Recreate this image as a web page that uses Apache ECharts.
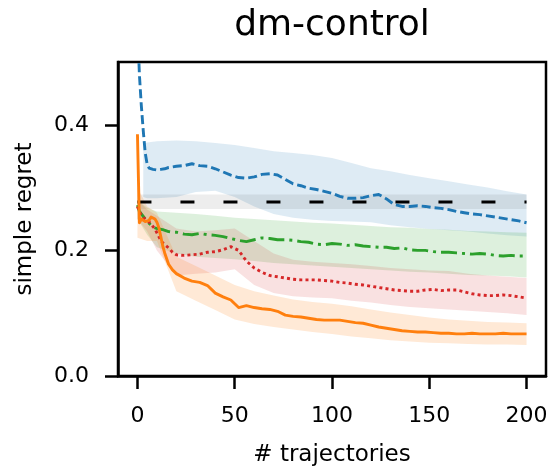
<!DOCTYPE html>
<html><head><meta charset="utf-8">
<script src="https://cdn.jsdelivr.net/npm/echarts@6/dist/echarts.min.js"></script>
<style>html,body{margin:0;padding:0;background:#fff}#c{width:549px;height:467px}</style>
</head><body><div id="c"></div>
<script>
const titleText = 'dm-control';
const xName = '# trajectories';
const yName = 'simple regret';
const xTicks = [0, 50, 100, 150, 200];
const yTicks = [0, 0.2, 0.4];

// x positions of the mean curves
const traj = [0,1,2,3,4,5,6,7,8,9,10,11,12,13,14,16,18,
  20,24,28,32,36,40,44,48,52,56,60,64,68,72,76,80,84,88,92,96,100,104,108,112,116,120,124,128,132,136,140,144,148,152,156,160,164,168,172,176,180,184,188,192,196,200];

const blueMean = [0.56,0.48,0.43,0.39,0.355,0.337,0.331,0.328,0.329,0.327,0.328,0.33,0.329,0.331,0.33,0.332,0.333,
  0.334,0.335,0.338,0.335,0.334,0.33,0.325,0.32,0.316,0.315,0.317,0.321,0.322,0.32,0.313,0.306,0.303,0.299,0.297,0.294,0.291,0.286,0.283,0.283,0.284,0.287,0.289,0.282,0.273,0.27,0.27,0.271,0.27,0.268,0.267,0.265,0.262,0.26,0.258,0.257,0.255,0.253,0.251,0.249,0.247,0.244];

const greenMean = [0.272,0.262,0.258,0.254,0.25,0.246,0.243,0.24,0.238,0.236,0.235,0.234,0.233,0.233,0.231,0.23,0.229,
  0.229,0.226,0.225,0.227,0.225,0.224,0.222,0.219,0.216,0.214,0.217,0.22,0.219,0.217,0.217,0.216,0.214,0.213,0.21,0.209,0.211,0.21,0.208,0.209,0.207,0.206,0.205,0.205,0.203,0.204,0.201,0.2,0.2,0.198,0.197,0.197,0.196,0.195,0.194,0.195,0.194,0.192,0.191,0.192,0.191,0.191];

const redMean = [0.27,0.262,0.256,0.252,0.25,0.248,0.245,0.242,0.238,0.234,0.228,0.222,0.216,0.212,0.209,0.204,0.197,
  0.193,0.192,0.193,0.194,0.197,0.198,0.201,0.206,0.2,0.183,0.172,0.165,0.16,0.158,0.156,0.154,0.153,0.153,0.153,0.152,0.151,0.149,0.148,0.146,0.145,0.143,0.141,0.139,0.137,0.136,0.135,0.135,0.137,0.138,0.136,0.137,0.137,0.134,0.131,0.129,0.128,0.128,0.129,0.128,0.126,0.124];

const orangeMean = [0.385,0.244,0.25,0.249,0.246,0.244,0.248,0.253,0.254,0.25,0.245,0.236,0.222,0.207,0.196,0.178,0.169,
  0.163,0.156,0.151,0.149,0.144,0.132,0.126,0.121,0.109,0.112,0.109,0.107,0.106,0.103,0.097,0.095,0.094,0.092,0.09,0.089,0.089,0.089,0.087,0.085,0.084,0.081,0.078,0.076,0.074,0.072,0.071,0.07,0.07,0.069,0.068,0.068,0.067,0.067,0.068,0.067,0.067,0.067,0.068,0.067,0.067,0.067];

// shaded bands
const bandX = [0,5,10,20,30,40,50,60,70,80,90,100,110,120,130,140,150,160,170,180,190,200];
const blueBandX = [3,5,10,20,30,40,50,60,70,80,90,100,110,120,130,140,150,160,170,180,190,200];
const blueHi = [0.37,0.372,0.374,0.375,0.374,0.371,0.368,0.363,0.358,0.355,0.352,0.347,0.339,0.331,0.326,0.32,0.315,0.31,0.305,0.3,0.294,0.289];
const blueLo = [0.285,0.283,0.283,0.285,0.293,0.295,0.285,0.27,0.258,0.252,0.249,0.247,0.246,0.245,0.24,0.237,0.234,0.232,0.23,0.227,0.224,0.222];
const greenHi = [0.28,0.268,0.262,0.26,0.258,0.255,0.252,0.25,0.248,0.246,0.244,0.243,0.241,0.239,0.237,0.236,0.234,0.233,0.231,0.23,0.229,0.228];
const greenLo = [0.25,0.225,0.205,0.195,0.19,0.188,0.186,0.183,0.18,0.178,0.176,0.174,0.172,0.17,0.168,0.166,0.165,0.163,0.161,0.16,0.159,0.157];
const redHi = [0.28,0.265,0.255,0.235,0.23,0.232,0.235,0.215,0.195,0.185,0.182,0.18,0.178,0.175,0.172,0.17,0.168,0.167,0.163,0.16,0.158,0.156];
const redLo = [0.25,0.23,0.2,0.16,0.163,0.165,0.17,0.145,0.132,0.127,0.125,0.124,0.12,0.117,0.113,0.11,0.108,0.106,0.104,0.102,0.1,0.097];
const orangeHi = [0.3,0.27,0.26,0.19,0.175,0.16,0.145,0.135,0.128,0.122,0.118,0.115,0.111,0.106,0.101,0.097,0.093,0.09,0.088,0.086,0.085,0.084];
const orangeLo = [0.22,0.215,0.215,0.135,0.12,0.105,0.09,0.083,0.078,0.074,0.07,0.067,0.063,0.06,0.057,0.055,0.053,0.052,0.051,0.05,0.05,0.0495];

// reference (black dashed) level
const baseX = [0, 200];
const baseMean = [0.277, 0.277];
const baseHi = [0.289, 0.289];
const baseLo = [0.266, 0.266];

const FONT = 'DejaVu Sans';

function band(xs, lo, hi, color, op) {
  return {
    type: 'custom', silent: true, z: 1, animation: false,
    data: xs.map((x, i) => [x, lo[i], hi[i]]),
    encode: { x: 0, y: [1, 2] },
    renderItem: function (params, api) {
      if (params.dataIndex !== 0) return null;
      const top = xs.map((x, i) => api.coord([x, hi[i]]));
      const bot = xs.map((x, i) => api.coord([x, lo[i]])).reverse();
      return { type: 'polygon', shape: { points: top.concat(bot) }, style: { fill: color, opacity: op } };
    }
  };
}
function curve(xs, ys, color, dash, z) {
  return { type: 'line', data: xs.map((x, i) => [x, ys[i]]), symbol: 'none', silent: true, z: z,
    lineStyle: { color: color, width: 2.9, type: dash, cap: 'butt', join: 'round' }, animation: false, clip: true };
}

const series = [
  band(blueBandX, blueLo, blueHi, '#1f77b4', 0.15),
  band(baseX, baseLo, baseHi, '#000000', 0.07),
  band(bandX, greenLo, greenHi, '#2ca02c', 0.16),
  band(bandX, redLo, redHi, '#d62728', 0.14),
  band(bandX, orangeLo, orangeHi, '#ff7f0e', 0.17),
  curve(baseX, baseMean, '#000000', [14, 29], 2),
  curve(traj, blueMean, '#1f77b4', [9, 4], 3),
  curve(traj, greenMean, '#2ca02c', [16, 5, 3, 5], 3),
  curve(traj, redMean, '#d62728', [3, 3.2], 3),
  curve(traj, orangeMean, '#ff7f0e', 'solid', 4)
];

const chart = echarts.init(document.getElementById('c'), null, { renderer: 'canvas' });
chart.setOption({
  animation: false,
  backgroundColor: '#fff',
  grid: { left: 118, right: 3, top: 62, bottom: 91, containLabel: false, outerBoundsMode: 'none',
          show: true, borderColor: '#000', borderWidth: 2.5, backgroundColor: 'transparent' },
  graphic: [{
    type: 'text', x: 332, y: 26,
    style: { text: titleText, font: '36px "DejaVu Sans"', fill: '#000', align: 'center', verticalAlign: 'middle', textAlign: 'center', textVerticalAlign: 'middle' }
  }],
  xAxis: {
    type: 'value', min: -10, max: 210,
    name: xName, nameLocation: 'middle', nameGap: 68,
    nameTextStyle: { fontFamily: FONT, fontSize: 23, color: '#000' },
    axisLine: { show: true, onZero: false, lineStyle: { color: '#000', width: 2.5 } },
    axisTick: { show: true, length: 13, customValues: xTicks, lineStyle: { color: '#000', width: 2.5 } },
    axisLabel: { customValues: xTicks, fontFamily: FONT, fontSize: 22, color: '#000', margin: 29 },
    splitLine: { show: false }
  },
  yAxis: {
    type: 'value', min: 0, max: 0.5,
    name: yName, nameLocation: 'middle', nameGap: 81, nameRotate: 90,
    nameTextStyle: { fontFamily: FONT, fontSize: 23, color: '#000' },
    axisLine: { show: true, onZero: false, lineStyle: { color: '#000', width: 2.5 } },
    axisTick: { show: true, length: 13, customValues: yTicks, lineStyle: { color: '#000', width: 2.5 } },
    axisLabel: { customValues: yTicks, fontFamily: FONT, fontSize: 22, color: '#000', margin: 29, formatter: v => v.toFixed(1) },
    splitLine: { show: false }
  },
  series: series
});
</script>
</body></html>
